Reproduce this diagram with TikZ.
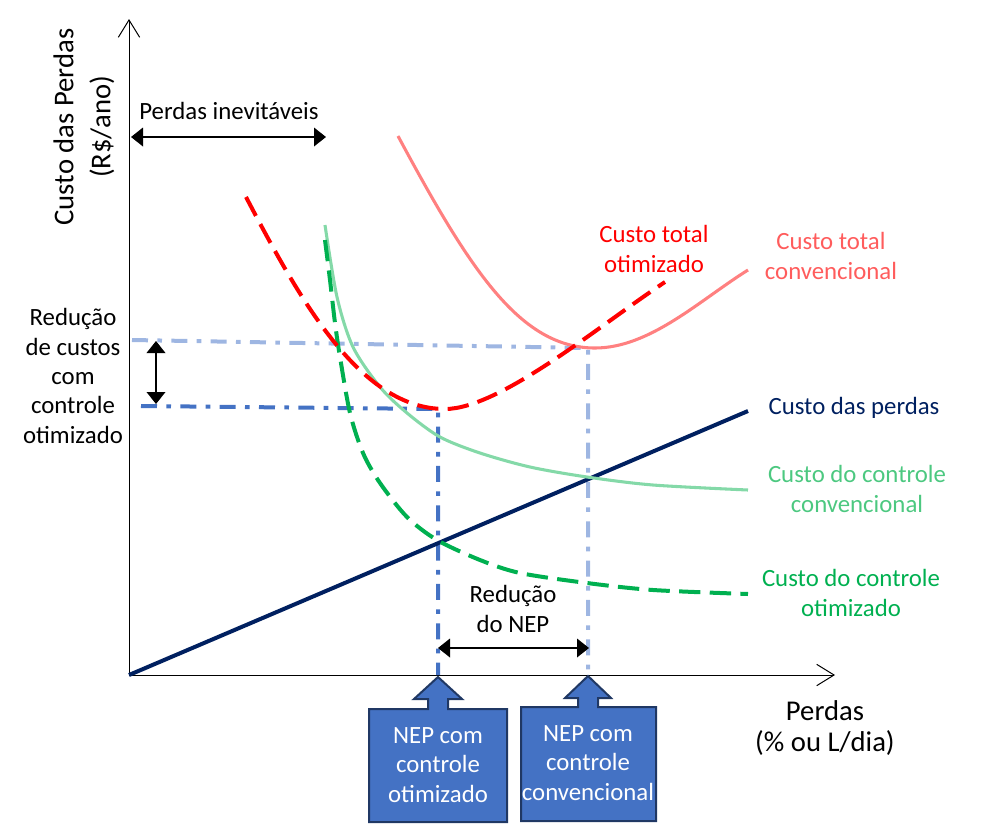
\documentclass[tikz,border=0pt]{standalone}
\usepackage{fontspec}
\setmainfont{Carlito}
\usetikzlibrary{arrows.meta}
\definecolor{navyc}{HTML}{002060}
\definecolor{pinkc}{HTML}{FF8080}
\definecolor{pinklbl}{HTML}{FF5C5C}
\definecolor{redc}{HTML}{FF0000}
\definecolor{lgreen}{HTML}{84D9A8}
\definecolor{lgreenlbl}{HTML}{4CC880}
\definecolor{greenc}{HTML}{00B050}
\definecolor{lblue}{HTML}{9EB6E2}
\definecolor{mblue}{HTML}{4472C4}
\definecolor{boxborder}{HTML}{203864}
\begin{document}
\begin{tikzpicture}[x=0.75pt,y=-0.75pt,
  font=\fontsize{18.6}{22}\selectfont,
  lbl/.style={inner sep=0pt, align=center},
  axisline/.style={line width=0.75pt, -{Straight Barb[length=13pt,width=16pt]}},
  dimarrow/.style={line width=1.1pt, {Triangle[length=9pt,width=14pt]}-{Triangle[length=9pt,width=14pt]}},
  callout/.style={fill=mblue, draw=boxborder, line width=1.5pt, line join=miter},
  boxtext/.style={inner sep=0pt, align=center, text=white},
  dashdot/.style={line width=3pt, dash pattern=on 12pt off 7pt on 3.5pt off 7pt},
  longdash/.style={line width=3pt, dash pattern=on 16pt off 7pt},
  solidcurve/.style={line width=2.3pt}]
\useasboundingbox (0,0) rectangle (1008,826);

% axes
\coordinate (O) at (129,675);
\coordinate (ytip) at (129,19);
\coordinate (xtip) at (835,675);
\draw[axisline] (O) -- (ytip);
\draw[axisline] (O) -- (xtip);

% guide lines
\coordinate (lbA) at (132,340);
\coordinate (lbB) at (588,348);
\coordinate (lbC) at (588,675);
\draw[dashdot, draw=lblue] (lbA) -- (lbB) -- (lbC);
\coordinate (mbA) at (141,406);
\coordinate (mbB) at (438,409);
\coordinate (mbC) at (438,675);
\draw[dashdot, draw=mblue] (mbA) -- (mbB) -- (mbC);

% Custo das perdas
\coordinate (navyEnd) at (748,411);
\draw[line width=3pt, navyc] (O) -- (navyEnd);

% Custo do controle convencional
\draw[solidcurve, lgreen] plot[smooth] coordinates {(325,225) (337,297) (353,347) (380,387) (407,413) (440,437) (480,453) (530,467) (587,477) (653,485) (748,490)};

% Custo do controle otimizado
\draw[longdash, greenc] plot[smooth] coordinates {(325,240) (330,280) (335,323) (340,357) (350,413) (363,453) (380,483) (407,517) (437,540) (480,560) (520,573) (587,583) (653,590) (748,594)};

% Custo total convencional
\draw[solidcurve, pinkc] (398,136) .. controls (470,270) and (520,348) .. (595,348) .. controls (650,348) and (700,300) .. (748,270);

% Custo total otimizado
\draw[longdash, redc] (246,197) .. controls (300,300) and (360,409) .. (445,409) .. controls (500,409) and (600,325) .. (665,282);

% dimension arrows
\coordinate (piA) at (131,137);
\coordinate (piB) at (326,137);
\draw[dimarrow] (piA) -- (piB);
\coordinate (rcA) at (156,341);
\coordinate (rcB) at (156,404);
\draw[dimarrow] (rcA) -- (rcB);
\coordinate (rnA) at (438,648);
\coordinate (rnB) at (589,648);
\draw[dimarrow] (rnA) -- (rnB);

% callouts
\draw[callout] (369,709) -- (428,709) -- (428,699) -- (414,699) -- (438,677) -- (462,699) -- (448,699) -- (448,709) -- (507,709) -- (507,822) -- (369,822) -- cycle;
\draw[callout] (521,707) -- (578,707) -- (578,698) -- (565,698) -- (588,676) -- (611,698) -- (598,698) -- (598,707) -- (656,707) -- (656,821) -- (521,821) -- cycle;
\node[boxtext] (nep1) at (438,765) {NEP com\\controle\\otimizado};
\node[boxtext] (nep2) at (588,763) {NEP com\\controle\\convencional};

% labels
\node[lbl, rotate=90, font=\fontsize{21.5}{27.75}\selectfont] (ylab) at (84,127) {Custo das Perdas\\(R\$/ano)};
\node[lbl, font=\fontsize{21.5}{23}\selectfont] (xlab) at (825,728) {Perdas\\(\% ou L/dia)};
\node[lbl] (inev) at (229,111) {Perdas inevitáveis};
\node[lbl] (redcust) at (73,376) {Redução\\de custos\\com\\controle\\otimizado};
\node[lbl] (rednep) at (513,609) {Redução\\do NEP};
\node[lbl, text=redc] (ltot) at (654,249) {Custo total\\otimizado};
\node[lbl, text=pinklbl] (ltconv) at (831,256) {Custo total\\convencional};
\node[lbl, text=navyc] (lperdas) at (854,408) {Custo das perdas};
\node[lbl, text=lgreenlbl] (lcconv) at (857,489) {Custo do controle\\convencional};
\node[lbl, text=greenc] (lcotim) at (851,593) {Custo do controle\\otimizado};
\end{tikzpicture}
\end{document}
